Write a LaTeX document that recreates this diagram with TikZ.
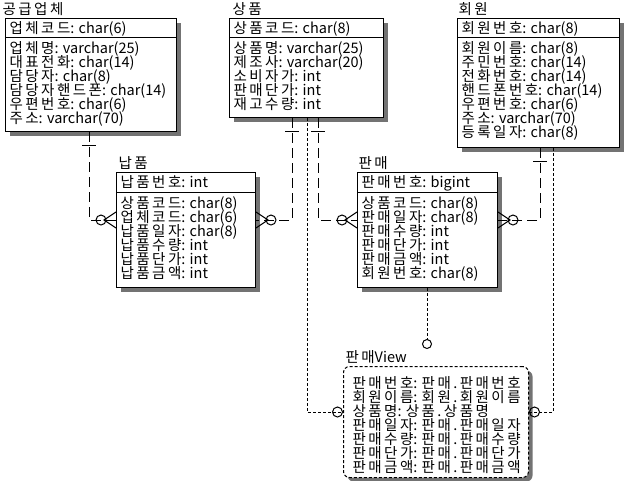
\documentclass[tikz,border=0pt]{standalone}
\usepackage{fontspec}
\setmainfont{Noto Sans CJK KR}
\usetikzlibrary{shadows}
% wider spacing between hangul syllables
\XeTeXinterchartokenstate=1
\newXeTeXintercharclass\hanclass
\newcount\hancode
\hancode="AC00
\loop
  \XeTeXcharclass\hancode=\hanclass
  \ifnum\hancode<"D7A3 \advance\hancode by 1
\repeat
\XeTeXinterchartoks\hanclass\hanclass={\kern2.5pt}
\tikzset{
  every picture/.style={font=\fontsize{14.5}{14}\selectfont, line width=1pt},
  entity/.style={draw, fill=white, anchor=north west, inner sep=0pt,
    drop shadow={shadow xshift=4pt, shadow yshift=-4pt, fill=black!55, opacity=1}},
  viewbox/.style={entity, dash pattern=on 3pt off 2pt, rounded corners=6pt},
  ttl/.style={anchor=base west, inner sep=0pt},
  fld/.style={anchor=base west, inner sep=0pt},
  relline/.style={draw, dash pattern=on 10pt off 5pt},
  viewline/.style={draw, dash pattern=on 3pt off 2pt},
}
% one-side bar below a parent box
\newcommand{\onemark}[1]{\draw (#1) ++(-7,13) -- ++(14,0);}
% crow's foot with circle on a child box side
\newcommand{\crowmark}[2]{%
  \begin{scope}[shift={(#1)}, rotate=#2]
    \draw (0,-8) -- (12,0) -- (0,8);
    \draw (15,0) circle[radius=5];
  \end{scope}}
\begin{document}
\begin{tikzpicture}[x=1pt, y=-1pt]
  \useasboundingbox (0,0) rectangle (624,480);
  % 공급업체
  \node[entity, minimum width=171pt, minimum height=113pt] (sup) at (5,18) {};
  \node[ttl] (sup-t) at ([shift={(-3,-4)}]sup.north west) {공급업체};
  \node[fld] (sup-k) at ([shift={(4,15)}]sup.north west) {업체코드: char(6)};
  \draw ([yshift=-19pt]sup.north west) -- ([yshift=-19pt]sup.north east);
  \foreach \f [count=\k] in {업체명: varchar(25), 대표전화: char(14), 담당자: char(8),
      담당자핸드폰: char(14), 우편번호: char(6), 주소: varchar(70)}
    \node[fld] (sup-f\k) at ([shift={(4,21+14*\k)}]sup.north west) {\f};
  % 상품
  \node[entity, minimum width=154pt, minimum height=99pt] (prd) at (229,18) {};
  \node[ttl] (prd-t) at ([shift={(3,-4)}]prd.north west) {상품};
  \node[fld] (prd-k) at ([shift={(4,15)}]prd.north west) {상품코드: char(8)};
  \draw ([yshift=-19pt]prd.north west) -- ([yshift=-19pt]prd.north east);
  \foreach \f [count=\k] in {상품명: varchar(25), 제조사: varchar(20), 소비자가: int,
      판매단가: int, 재고수량: int}
    \node[fld] (prd-f\k) at ([shift={(4,21+14*\k)}]prd.north west) {\f};
  % 회원
  \node[entity, minimum width=162pt, minimum height=129pt] (mem) at (457,18) {};
  \node[ttl] (mem-t) at ([shift={(1,-4)}]mem.north west) {회원};
  \node[fld] (mem-k) at ([shift={(4,15)}]mem.north west) {회원번호: char(8)};
  \draw ([yshift=-19pt]mem.north west) -- ([yshift=-19pt]mem.north east);
  \foreach \f [count=\k] in {회원이름: char(8), 주민번호: char(14), 전화번호: char(14),
      핸드폰번호: char(14), 우편번호: char(6), 주소: varchar(70), 등록일자: char(8)}
    \node[fld] (mem-f\k) at ([shift={(4,21+14*\k)}]mem.north west) {\f};
  % 납품
  \node[entity, minimum width=139pt, minimum height=115pt] (dlv) at (116,172) {};
  \node[ttl] (dlv-t) at ([shift={(2,-4)}]dlv.north west) {납품};
  \node[fld] (dlv-k) at ([shift={(4,15)}]dlv.north west) {납품번호: int};
  \draw ([yshift=-20pt]dlv.north west) -- ([yshift=-20pt]dlv.north east);
  \foreach \f [count=\k] in {상품코드: char(8), 업체코드: char(6), 납품일자: char(8),
      납품수량: int, 납품단가: int, 납품금액: int}
    \node[fld] (dlv-f\k) at ([shift={(4,22+14*\k)}]dlv.north west) {\f};
  % 판매
  \node[entity, minimum width=140pt, minimum height=115pt] (sale) at (357,172) {};
  \node[ttl] (sale-t) at ([shift={(1,-4)}]sale.north west) {판매};
  \node[fld] (sale-k) at ([shift={(4,15)}]sale.north west) {판매번호: bigint};
  \draw ([yshift=-20pt]sale.north west) -- ([yshift=-20pt]sale.north east);
  \foreach \f [count=\k] in {상품코드: char(8), 판매일자: char(8), 판매수량: int,
      판매단가: int, 판매금액: int, 회원번호: char(8)}
    \node[fld] (sale-f\k) at ([shift={(4,22+14*\k)}]sale.north west) {\f};
  % 판매View
  \node[viewbox, minimum width=185pt, minimum height=111pt] (view) at (343,366) {};
  \node[ttl] (view-t) at ([shift={(2,-4)}]view.north west) {판매View};
  \foreach \f [count=\k] in {판매번호: 판매\,.\,판매번호, 회원이름: 회원\,.\,회원이름,
      상품명: 상품\,.\,상품명, 판매일자: 판매\,.\,판매일자, 판매수량: 판매\,.\,판매수량,
      판매단가: 판매\,.\,판매단가, 판매금액: 판매\,.\,판매금액}
    \node[fld] (view-f\k) at ([shift={(9,8+14*\k)}]view.north west) {\f};
  % relationships
  \coordinate (b1) at (89,220);
  \draw[relline] (b1 |- sup.south) -- (b1) -- (b1 -| dlv.west);
  \onemark{b1 |- sup.south}
  \crowmark{b1 -| dlv.west}{180}
  \coordinate (b2) at (292,220);
  \draw[relline] (b2 |- prd.south) -- (b2) -- (b2 -| dlv.east);
  \onemark{b2 |- prd.south}
  \crowmark{b2 -| dlv.east}{0}
  \coordinate (b3) at (318,220);
  \draw[relline] (b3 |- prd.south) -- (b3) -- (b3 -| sale.west);
  \onemark{b3 |- prd.south}
  \crowmark{b3 -| sale.west}{180}
  \coordinate (b4) at (540,220);
  \draw[relline] (b4 |- mem.south) -- (b4) -- (b4 -| sale.east);
  \onemark{b4 |- mem.south}
  \crowmark{b4 -| sale.east}{0}
  % view links
  \coordinate (b5) at (307,412);
  \draw[viewline] (b5 |- prd.south) -- (b5) -- (b5 -| view.west);
  \draw (view.west |- b5) ++(-5.5,0) circle[radius=5];
  \coordinate (b6) at (553,412);
  \draw[viewline] (b6 |- mem.south) -- (b6) -- (b6 -| view.east);
  \draw (view.east |- b6) ++(5.5,0) circle[radius=5];
  \coordinate (b7) at (427,344);
  \draw[viewline] (b7 |- sale.south) -- ([yshift=4.5pt]b7);
  \draw (b7) circle[radius=4.5];
\end{tikzpicture}
\end{document}
